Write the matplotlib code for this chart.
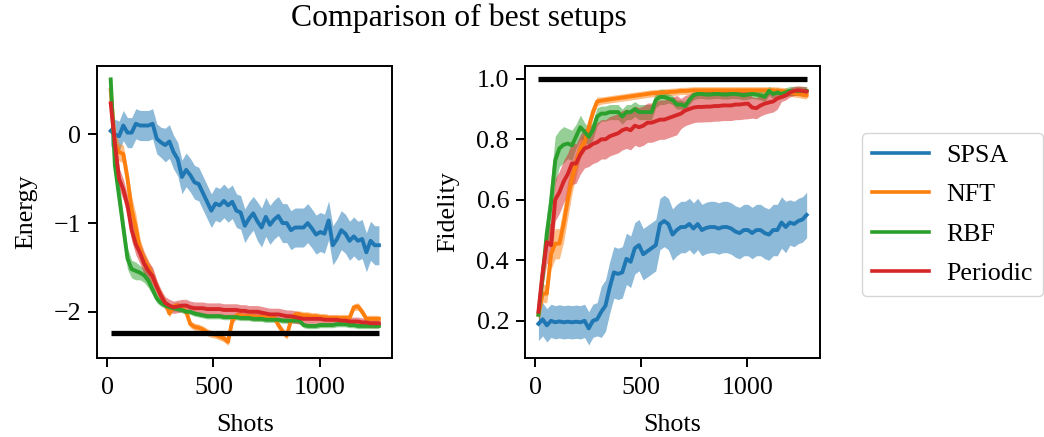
import numpy as np
import matplotlib
matplotlib.use("Agg")
import matplotlib.pyplot as plt

plt.rcParams['font.family'] = ['Liberation Serif', 'DejaVu Serif']
plt.rcParams['mathtext.fontset'] = 'stix'

# ---------------- data ----------------
methods = ["SPSA", "NFT", "RBF", "Periodic"]
colors = ["#1f77b4", "#ff7f0e", "#2ca02c", "#d62728"]

shots = np.linspace(16, 1280, 65)

ground_energy = -2.236
target_fidelity = 1.0

E_spsa = [0.04, 0.0, -0.02, 0.1, 0.02, 0.02, 0.12, 0.1, 0.1, 0.1, 0.12, -0.05, -0.09,
          -0.12, -0.08, -0.2, -0.28, -0.48, -0.4, -0.46, -0.54, -0.56, -0.66, -0.76,
          -0.86, -0.78, -0.8, -0.75, -0.8, -0.76, -0.86, -0.88, -1.03, -0.95, -0.89,
          -0.98, -1.05, -0.93, -1.02, -0.96, -0.92, -1.0, -1.0, -1.08, -1.05,
          -1.05, -1.05, -1.0, -1.06, -1.13, -1.1, -1.12, -0.97, -1.25, -1.18,
          -1.08, -1.12, -1.2, -1.15, -1.2, -1.18, -1.33, -1.2, -1.25, -1.25]
E_nft = [0.5, -0.1, -0.2, -0.22, -0.5, -0.85, -1.05, -1.3, -1.42, -1.5, -1.6, -1.72, -1.82,
         -1.9, -2.02, -1.94, -1.93, -1.96, -2.0, -2.14, -2.17, -2.18, -2.2, -2.23,
         -2.25, -2.26, -2.28, -2.3, -2.34, -2.1, -2.04, -2.04, -2.05, -2.05, -2.05,
         -2.06, -2.06, -2.06, -2.06, -2.06, -2.15, -2.22, -2.27, -2.1, -2.03,
         -2.03, -2.04, -2.04, -2.05, -2.05, -2.06, -2.06, -2.07, -2.07, -2.07,
         -2.07, -2.07, -2.07, -1.95, -1.94, -2.0, -2.08, -2.08, -2.08, -2.08]
E_rbf = [0.62, -0.35, -0.7, -1.05, -1.4, -1.52, -1.54, -1.56, -1.59, -1.65, -1.75, -1.85, -1.9,
         -1.93, -1.95, -1.96, -1.97, -1.98, -2.0, -2.0, -2.02, -2.03, -2.04, -2.05,
         -2.05, -2.05, -2.05, -2.06, -2.06, -2.06, -2.06, -2.07, -2.07, -2.07, -2.08,
         -2.08, -2.08, -2.09, -2.09, -2.09, -2.09, -2.1, -2.1, -2.1, -2.1,
         -2.1, -2.15, -2.16, -2.16, -2.16, -2.15, -2.15, -2.15, -2.15, -2.14,
         -2.14, -2.14, -2.15, -2.15, -2.16, -2.16, -2.16, -2.16, -2.16, -2.16]
E_per = [0.35, -0.1, -0.5, -0.62, -0.8, -1.08, -1.24, -1.34, -1.46, -1.54, -1.6, -1.72, -1.82,
         -1.9, -1.93, -1.95, -1.94, -1.93, -1.93, -1.95, -1.96, -1.96, -1.96, -1.97,
         -1.97, -1.97, -1.97, -1.98, -1.98, -1.98, -1.98, -1.99, -1.99, -2.0, -2.0,
         -2.0, -2.01, -2.02, -2.03, -2.03, -2.03, -2.04, -2.05, -2.05, -2.06,
         -2.07, -2.08, -2.08, -2.08, -2.08, -2.08, -2.09, -2.09, -2.09, -2.09,
         -2.1, -2.1, -2.11, -2.11, -2.11, -2.12, -2.12, -2.13, -2.13, -2.13]

# half-widths of the shaded bands (energy)
dE_spsa = [0.17] * 13 + [0.19] * 22 + [0.22] * 30
dE_nft = [0.1, 0.15, 0.1, 0.1, 0.12, 0.15, 0.15, 0.12, 0.1, 0.08, 0.08, 0.06, 0.06] + [0.04] * 52
dE_rbf = [0.05, 0.15, 0.15, 0.15, 0.12, 0.1, 0.1, 0.08, 0.08, 0.08, 0.06, 0.05, 0.04] + [0.03] * 52
dE_per = [0.1, 0.12, 0.12, 0.12, 0.12, 0.12, 0.12, 0.12, 0.12, 0.1, 0.1, 0.08, 0.07] + [0.07] * 33 + [0.05] * 19

F_spsa = [0.19, 0.205, 0.185, 0.20, 0.195, 0.198, 0.195, 0.197, 0.195, 0.197, 0.195, 0.2,
          0.175, 0.2, 0.205, 0.23, 0.25, 0.31, 0.36, 0.355, 0.36, 0.405, 0.395, 0.44,
          0.45, 0.42, 0.43, 0.44, 0.45, 0.52, 0.53, 0.52, 0.485, 0.5, 0.51,
          0.51, 0.52, 0.505, 0.52, 0.5, 0.507, 0.51, 0.51, 0.505, 0.51,
          0.51, 0.505, 0.495, 0.49, 0.5, 0.5, 0.49, 0.5, 0.5, 0.49,
          0.485, 0.5, 0.5, 0.525, 0.51, 0.525, 0.52, 0.53, 0.535, 0.55]
F_nft = [0.22, 0.29, 0.29, 0.42, 0.455, 0.455, 0.52, 0.6, 0.67, 0.72, 0.77, 0.79, 0.84,
         0.89, 0.925, 0.928, 0.93, 0.932, 0.934, 0.936, 0.938, 0.94, 0.942, 0.944,
         0.946, 0.948, 0.95, 0.952, 0.953, 0.954, 0.955, 0.956, 0.957, 0.958, 0.96,
         0.96, 0.961, 0.962, 0.962, 0.962, 0.962, 0.962, 0.962, 0.962, 0.962,
         0.962, 0.962, 0.962, 0.962, 0.962, 0.962, 0.962, 0.962, 0.962, 0.962,
         0.962, 0.962, 0.961, 0.96, 0.958, 0.955, 0.952, 0.95, 0.947, 0.945]
F_rbf = [0.22, 0.35, 0.49, 0.59, 0.73, 0.77, 0.782, 0.786, 0.78, 0.81, 0.84, 0.825, 0.808,
         0.83, 0.875, 0.885, 0.885, 0.89, 0.89, 0.89, 0.875, 0.89, 0.89, 0.9,
         0.89, 0.89, 0.89, 0.89, 0.93, 0.94, 0.94, 0.935, 0.93, 0.915, 0.915,
         0.91, 0.93, 0.945, 0.95, 0.95, 0.948, 0.948, 0.95, 0.95, 0.948,
         0.948, 0.95, 0.95, 0.948, 0.945, 0.948, 0.95, 0.948, 0.945, 0.94,
         0.96, 0.95, 0.955, 0.95, 0.955, 0.96, 0.96, 0.96, 0.96, 0.96]
F_per = [0.23, 0.36, 0.46, 0.45, 0.6, 0.625, 0.66, 0.685, 0.72, 0.72, 0.75, 0.77, 0.775,
         0.785, 0.79, 0.8, 0.8, 0.81, 0.815, 0.82, 0.83, 0.835, 0.83, 0.845,
         0.84, 0.845, 0.855, 0.855, 0.86, 0.865, 0.865, 0.87, 0.875, 0.88, 0.885,
         0.895, 0.9, 0.905, 0.907, 0.907, 0.908, 0.908, 0.91, 0.91, 0.912,
         0.912, 0.912, 0.915, 0.915, 0.917, 0.918, 0.905, 0.903, 0.912, 0.918,
         0.922, 0.925, 0.935, 0.94, 0.945, 0.955, 0.96, 0.962, 0.96, 0.958]

dF_spsa = [0.055] * 15 + [0.085] * 45 + [0.075] * 5
dF_nft = [0.03, 0.03, 0.03, 0.05, 0.05, 0.05, 0.06, 0.06, 0.05, 0.04, 0.03, 0.03, 0.02, 0.02, 0.015] + [0.012] * 50
dF_rbf = [0.03, 0.05, 0.06, 0.08, 0.08, 0.06, 0.06, 0.05, 0.05, 0.04, 0.04, 0.03, 0.03, 0.03, 0.03] + [0.025] * 16 + [0.015] * 34
dF_per = [0.03, 0.05] + [0.07] * 7 + [0.065] * 25 + [0.05] * 17 + [0.035] * 7 + [0.015] * 7

energy = [E_spsa, E_nft, E_rbf, E_per]
energy_err = [dE_spsa, dE_nft, dE_rbf, dE_per]
fidelity = [F_spsa, F_nft, F_rbf, F_per]
fidelity_err = [dF_spsa, dF_nft, dF_rbf, dF_per]

# ---------------- figure ----------------
FS = 18.7
fig = plt.figure(figsize=(10.44, 4.37), dpi=100)
ax1 = fig.add_axes([0.0932, 0.1801, 0.2826, 0.670])
ax2 = fig.add_axes([0.5029, 0.1801, 0.2826, 0.670])

LW = 2.8
for ax, vals, errs in ((ax1, energy, energy_err), (ax2, fidelity, fidelity_err)):
    for name, c, v, e in zip(methods, colors, vals, errs):
        v = np.asarray(v)
        e = np.asarray(e)
        ax.plot(shots, v, color=c, lw=LW, label=name)
        ax.fill_between(shots, v - e, v + e, color=c, alpha=0.5, lw=0)

ax1.plot([shots[0], shots[-1]], [ground_energy, ground_energy], color='black', lw=3.8, zorder=5,
         solid_capstyle='butt')
ax2.plot([shots[0], shots[-1]], [target_fidelity, target_fidelity], color='black', lw=3.8, zorder=5,
         solid_capstyle='butt')

ax1.set_ylim(-2.525, 0.777)
ax2.set_ylim(0.076, 1.044)
ax1.set_yticks([0, -1, -2])
ax2.set_yticks([0.2, 0.4, 0.6, 0.8, 1.0])

for ax in (ax1, ax2):
    ax.set_xticks([0, 500, 1000])
    ax.tick_params(labelsize=FS, length=6.5, width=1.4)
    ax.tick_params(axis='x', pad=7)
    ax.tick_params(axis='y', pad=5)
    for s in ax.spines.values():
        s.set_linewidth(1.4)
    ax.set_xlabel("Shots", fontsize=FS, labelpad=11)

ax1.set_ylabel("Energy", fontsize=FS, labelpad=12)
ax2.set_ylabel("Fidelity", fontsize=FS, labelpad=12)

fig.text(0.4397, 0.958, "Comparison of best setups", ha='center', va='center', fontsize=22.9)

leg = fig.legend(*ax1.get_legend_handles_labels(), loc='upper left',
                 bbox_to_anchor=(0.8254, 0.695), borderaxespad=0, fontsize=FS,
                 handlelength=2.2, handletextpad=0.65, labelspacing=0.63,
                 frameon=True, edgecolor='0.8')
for h in leg.get_lines():
    h.set_linewidth(2.6)

fig.savefig("out.png", dpi=100)
